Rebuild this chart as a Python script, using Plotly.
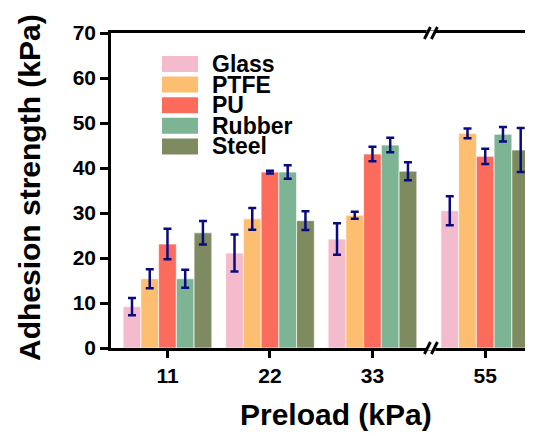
import plotly.graph_objects as go

# ---------------- data ----------------
preload = ["11", "22", "33", "55"]
materials = ["Glass", "PTFE", "PU", "Rubber", "Steel"]

glass = [9.2, 21.1, 24.2, 30.5]
glass_err = [1.9, 4.1, 3.5, 3.2]
ptfe = [15.4, 28.7, 29.5, 47.7]
ptfe_err = [2.1, 2.4, 0.8, 1.1]
pu = [23.1, 39.1, 43.1, 42.6]
pu_err = [3.4, 0.3, 1.6, 1.7]
rubber = [15.4, 39.1, 45.1, 47.5]
rubber_err = [2.0, 1.5, 1.6, 1.6]
steel = [25.6, 28.3, 39.3, 44.0]
steel_err = [2.6, 2.1, 2.0, 4.9]

y_ticks = [0, 10, 20, 30, 40, 50, 60, 70]

# ---------------- styling / layout constants ----------------
colors = ["#F4BBCC", "#FDBE71", "#FC6C5C", "#7DB494", "#7E8B60"]
err_color = "#0B0B80"
FONT = "Liberation Sans, Arial, sans-serif"

PAGE_OFF = 8                      # default body margin of the html page
PLOT_L, PLOT_R, PLOT_T, PLOT_B = 111, 533, 33, 348   # plot area on the page
W = 533 - PAGE_OFF
H = 436 - PAGE_OFF
ML = PLOT_L - PAGE_OFF
MT = PLOT_T - PAGE_OFF
PW = PLOT_R - PLOT_L
PH = PLOT_B - PLOT_T
MR = W - ML - PW
MB = H - MT - PH

BREAK_INDEX = 3        # axis is broken before this category
BREAK_EXTRA = 0.10     # extra spacing added by the break
xpos = [i + (BREAK_EXTRA if i >= BREAK_INDEX else 0) for i in range(len(preload))]
break_at = (xpos[BREAK_INDEX - 1] + xpos[BREAK_INDEX]) / 2 + 0.02
XMIN, XMAX = -0.551, 3.566

series = [glass, ptfe, pu, rubber, steel]
errors = [glass_err, ptfe_err, pu_err, rubber_err, steel_err]

fig = go.Figure()
for name, vals, errs, col in zip(materials, series, errors, colors):
    fig.add_bar(
        x=xpos, y=vals, name=name, showlegend=False,
        marker=dict(color=col, line=dict(color="rgba(255,255,255,0.65)", width=1)),
        error_y=dict(type="data", array=errs, visible=True,
                     color=err_color, thickness=2.5, width=4),
    )

def dx(p):   # pixel length -> paper
    return p / PW

def dy(p):
    return p / PH

def page_x(px):   # page pixel -> paper x
    return (px - PLOT_L) / PW

def page_y(py):   # page pixel -> paper y
    return (PLOT_B - py) / PH

shapes = []
# axis breaks (top and bottom)
bx = (break_at - XMIN) / (XMAX - XMIN)
for yb in (0.0, 1.0):
    shapes.append(dict(type="rect", xref="paper", yref="paper",
                       x0=bx - dx(4.5), x1=bx + dx(4.5),
                       y0=yb - dy(2.5), y1=yb + dy(2.5),
                       fillcolor="white", line=dict(width=0), layer="above"))
    for off in (-3.5, 3.5):
        shapes.append(dict(type="line", xref="paper", yref="paper",
                           x0=bx + dx(off - 3), y0=yb - dy(6),
                           x1=bx + dx(off + 3), y1=yb + dy(6),
                           line=dict(color="black", width=2.8), layer="above"))

# custom legend (swatches + labels)
annotations = []
leg_x0 = page_x(162)
leg_x1 = page_x(198)
leg_tx = page_x(210)
row0 = page_y(64)
step = dy(20.6)
for i, (name, col) in enumerate(zip(materials, colors)):
    yc = row0 - i * step
    shapes.append(dict(type="rect", xref="paper", yref="paper",
                       x0=leg_x0, x1=leg_x1, y0=yc - dy(8), y1=yc + dy(8),
                       fillcolor=col, line=dict(width=0), layer="above"))
    annotations.append(dict(text=name, xref="paper", yref="paper", x=leg_tx, y=yc,
                            xanchor="left", yanchor="middle", showarrow=False,
                            font=dict(family=FONT, size=23, color="black", weight="bold")))

# axis titles
annotations.append(dict(text="Preload (kPa)", xref="paper", yref="paper",
                        x=page_x(335.5), y=page_y(414),
                        xanchor="center", yanchor="middle", showarrow=False,
                        font=dict(family=FONT, size=30, color="black", weight="bold")))
annotations.append(dict(text="Adhesion strength (kPa)", xref="paper", yref="paper",
                        x=page_x(29), y=page_y(188), textangle=-90,
                        xanchor="center", yanchor="middle", showarrow=False,
                        font=dict(family=FONT, size=30, color="black", weight="bold")))

fig.update_layout(
    width=W, height=H,
    margin=dict(l=ML, r=MR, t=MT, b=MB, pad=0),
    plot_bgcolor="white", paper_bgcolor="white",
    barmode="group", bargap=0.135, bargroupgap=0,
    shapes=shapes, annotations=annotations,
    font=dict(family=FONT, color="black"),
    xaxis=dict(range=[XMIN, XMAX], tickvals=xpos, ticktext=preload,
               ticks="outside", ticklen=7, tickwidth=2.5, tickcolor="black",
               showline=True, linewidth=2.5, linecolor="black", mirror=True,
               showgrid=False, zeroline=False,
               tickfont=dict(family=FONT, size=21, color="black", weight="bold")),
    yaxis=dict(range=[0, 70], tickvals=y_ticks,
               ticks="outside", ticklen=8, tickwidth=2.5, tickcolor="black",
               showline=True, linewidth=2.5, linecolor="black",
               showgrid=False, zeroline=False,
               tickfont=dict(family=FONT, size=21, color="black", weight="bold")),
)

fig.write_html("out.html")
